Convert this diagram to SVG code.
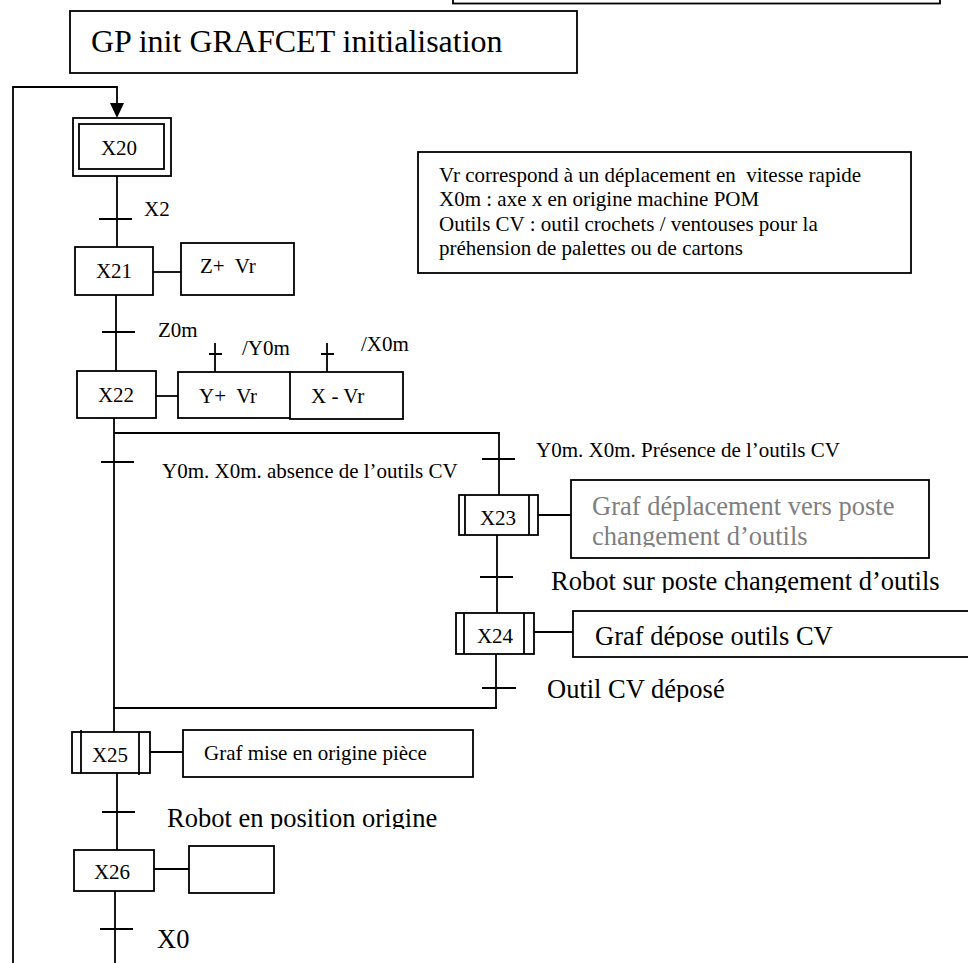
<svg xmlns="http://www.w3.org/2000/svg" width="968" height="963" viewBox="0 0 968 963">
<style>
  .box { fill: #fff; stroke: #000; stroke-width: 1.8; }
  .ln { fill: none; stroke: #000; stroke-width: 1.8; }
  text { font-family: "Liberation Serif", "Times New Roman", serif; fill: #000; white-space: pre; }
  .s { font-size: 21px; }
  .m { font-size: 26.5px; }
  .g { fill: #7f7f7f; }
</style>
<defs>
  <clipPath id="c23"><rect x="572" y="481" width="356" height="66"/></clipPath>
  <clipPath id="cRobot1"><rect x="540" y="560" width="428" height="33"/></clipPath>
  <clipPath id="c24"><rect x="574" y="612" width="394" height="35"/></clipPath>
  <clipPath id="cOutil"><rect x="540" y="670" width="300" height="32"/></clipPath>
  <clipPath id="cRobot2"><rect x="160" y="795" width="320" height="34"/></clipPath>
</defs>
<rect width="968" height="963" fill="#fff"/>

<g id="header-top"><rect class="box" x="453" y="-20" width="487" height="23.5"/></g>
<g id="title"><rect class="box" x="70" y="11" width="507" height="62"/>
  <text x="91" y="52" style="font-size:32px">GP init GRAFCET initialisation</text></g>
<g id="legend"><rect class="box" x="418" y="152" width="493" height="121"/>
  <text class="s" x="439" y="182" xml:space="preserve">Vr correspond à un déplacement en  vitesse rapide</text>
  <text class="s" x="439" y="206">X0m : axe x en origine machine POM</text>
  <text class="s" x="439" y="231">Outils CV : outil crochets / ventouses pour la</text>
  <text class="s" x="439" y="255">préhension de palettes ou de cartons</text></g>

<g id="connectors">
  <path class="ln" d="M13,975 V87 H117 V104"/>
  <polygon points="110,103 124,103 117,118" fill="#000"/>
  <path class="ln" d="M117,176 V247 M99,219 H132"/>
  <path class="ln" d="M116,295 V371 M102,332 H135"/>
  <path class="ln" d="M153,272 H181"/>
  <path class="ln" d="M156,396 H178"/>
  <path class="ln" d="M215,343 V372 M209,354 H222"/>
  <path class="ln" d="M327,343 V372 M321,354 H334"/>
  <path class="ln" d="M114,418 V732 M114,433 H500 M101,462 H134"/>
  <path class="ln" d="M499,433 V495 M482,459 H515"/>
  <path class="ln" d="M538,515 H571"/>
  <path class="ln" d="M497,535 V613 M480,577 H513"/>
  <path class="ln" d="M534,632 H573"/>
  <path class="ln" d="M496,654 V709 M482,688 H516"/>
  <path class="ln" d="M113,708 H497"/>
  <path class="ln" d="M150,752 H183"/>
  <path class="ln" d="M117,773 V850 M102,812 H135"/>
  <path class="ln" d="M154,869 H189"/>
  <path class="ln" d="M115,891 V975 M100,929 H133"/>
</g>

<g id="X20"><rect class="box" x="73" y="118" width="98" height="58"/><rect class="box" x="79" y="124" width="85" height="45"/>
  <text class="s" x="119" y="155" text-anchor="middle">X20</text></g>
<text id="t-X2" class="s" x="144" y="216">X2</text>
<g id="X21"><rect class="box" x="75" y="247" width="78" height="48"/>
  <text class="s" x="114" y="278" text-anchor="middle">X21</text></g>
<g id="A21"><rect class="box" x="181" y="243" width="113" height="52"/>
  <text class="s" x="200" y="273" xml:space="preserve">Z+  Vr</text></g>
<text id="t-Z0m" class="s" x="158" y="337">Z0m</text>
<text id="t-Y0m" class="s" x="242" y="355">/Y0m</text>
<text id="t-X0m" class="s" x="361" y="351">/X0m</text>
<g id="X22"><rect class="box" x="77" y="371" width="79" height="47"/>
  <text class="s" x="116" y="402" text-anchor="middle">X22</text></g>
<g id="A22a"><rect class="box" x="178" y="372" width="113" height="46"/>
  <text class="s" x="199" y="403" xml:space="preserve">Y+  Vr</text></g>
<g id="A22b"><rect class="box" x="290" y="372" width="113" height="47"/>
  <text class="s" x="311" y="403">X - Vr</text></g>
<text id="t-abs" class="s" x="162" y="478">Y0m. X0m. absence de l’outils CV</text>
<text id="t-pres" class="s" x="536" y="457">Y0m. X0m. Présence de l’outils CV</text>
<g id="X23"><rect class="box" x="459" y="495" width="79" height="40"/>
  <path class="ln" d="M465,495 V535 M529,495 V535"/>
  <text class="s" x="498" y="525" text-anchor="middle">X23</text></g>
<g id="A23"><rect class="box" x="571" y="480" width="358" height="78"/>
  <g clip-path="url(#c23)"><text class="m g" x="592" y="515">Graf déplacement vers poste</text>
  <text class="m g" x="592" y="545">changement d’outils</text></g></g>
<g clip-path="url(#cRobot1)"><text id="t-robot1" class="m" x="551" y="590">Robot sur poste changement d’outils</text></g>
<g id="X24"><rect class="box" x="456" y="613" width="78" height="41"/>
  <path class="ln" d="M464,613 V654 M524,613 V654"/>
  <text class="s" x="495" y="643" text-anchor="middle">X24</text></g>
<g id="A24"><rect class="box" x="573" y="611" width="420" height="46"/>
  <g clip-path="url(#c24)"><text class="m" x="595" y="645">Graf dépose outils CV</text></g></g>
<g clip-path="url(#cOutil)"><text id="t-outil" class="m" x="547" y="698">Outil CV déposé</text></g>
<g id="X25"><rect class="box" x="72" y="732" width="78" height="41"/>
  <path class="ln" d="M81,730 V774 M139,732 V775"/>
  <text class="s" x="110" y="762" text-anchor="middle">X25</text></g>
<g id="A25"><rect class="box" x="183" y="730" width="290" height="47"/>
  <text class="s" x="204" y="760">Graf mise en origine pièce</text></g>
<g clip-path="url(#cRobot2)"><text id="t-robot2" class="m" x="167" y="827">Robot en position origine</text></g>
<g id="X26"><rect class="box" x="74" y="850" width="80" height="41"/>
  <text class="s" x="112" y="879" text-anchor="middle">X26</text></g>
<g id="A26"><rect class="box" x="189" y="846" width="85" height="47"/></g>
<text id="t-X0" class="m" x="157" y="948">X0</text>
</svg>
